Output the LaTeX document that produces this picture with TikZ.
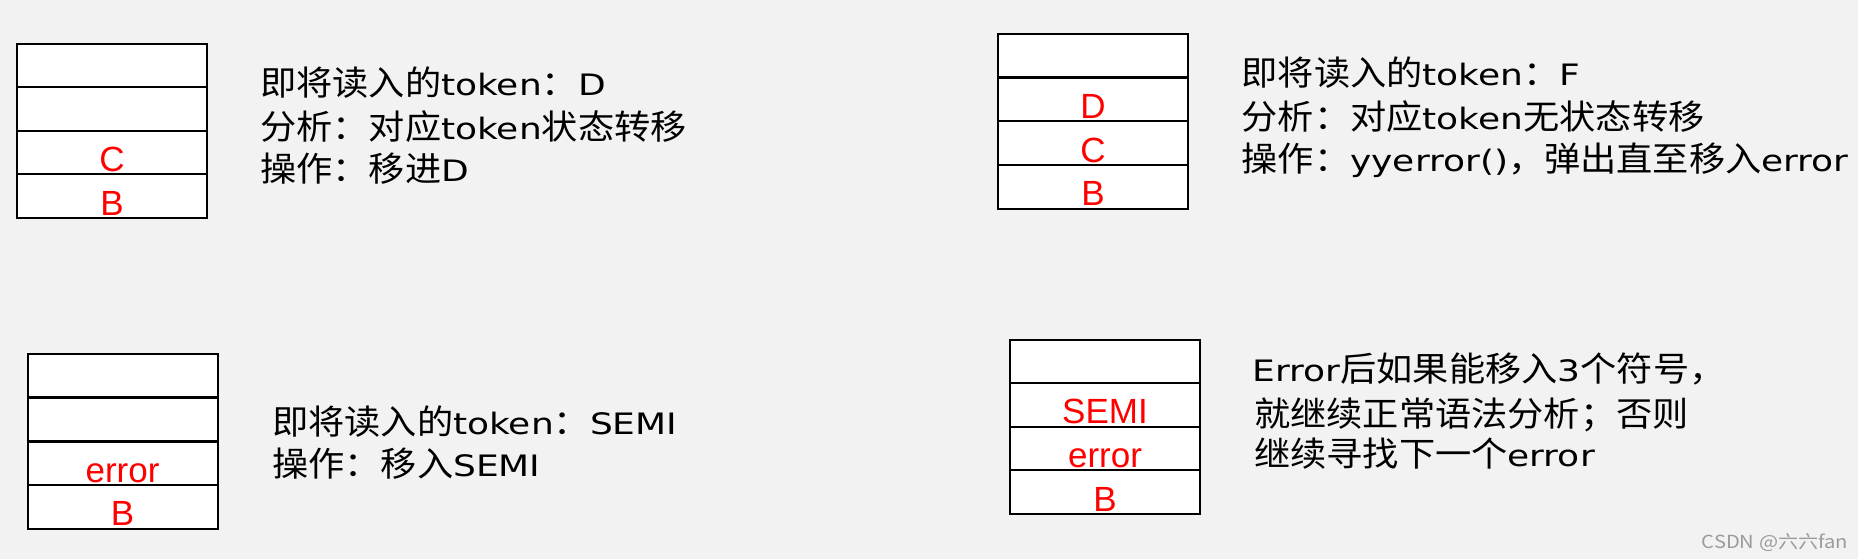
\documentclass[tikz,border=0pt]{standalone}
\usepackage{fontspec}
\setmainfont{Liberation Sans}
\newfontfamily\cjk[FakeStretch=1.065]{Noto Sans CJK SC}
\newfontfamily\latf[FakeStretch=1.22]{DejaVu Sans}
\newfontfamily\wmf[FakeStretch=1.12]{Noto Sans CJK SC}
\newcommand\mylat[1]{{\latf\fontsize{29.5pt}{36pt}\selectfont #1}}
\definecolor{bgc}{RGB}{242,242,242}
\definecolor{wm}{RGB}{155,155,155}
\begin{document}
\begin{tikzpicture}[x=1pt,y=-1pt,
  cell/.style={draw=black,line width=2pt,fill=white,minimum width=190pt,minimum height=43.5pt,inner sep=0pt,outer sep=0pt,anchor=north west},
  lab/.style={text=red,anchor=base,inner sep=0pt,font=\fontsize{35pt}{40pt}\selectfont},
  txt/.style={anchor=base west,inner sep=0pt,font=\cjk\fontsize{34pt}{42pt}\selectfont}]
\fill[bgc] (0,0) rectangle (1858,559);
\useasboundingbox (0,0) rectangle (1858,559);
% stack 1
\node[cell] (a1) at (17,43.7) {};
\node[cell] (a2) at (17,87.2) {};
\node[cell] (a3) at (17,130.7) {};
\node[cell] (a4) at (17,174.2) {};
\node[lab] (la3) at ([yshift=2.3pt]a3.south) {C};
\node[lab] (la4) at ([yshift=2.7pt]a4.south) {B};
\node[txt] (ta1) at (260,95.7) {即将读入的\mylat{token}：\mylat{D}};
\node[txt] (ta2) at (260,139.3) {分析：对应\mylat{token}状态转移};
\node[txt] (ta3) at (260,181.7) {操作：移进\mylat{D}};
% stack 2
\node[cell] (b1) at (998,33.7) {};
\node[cell] (b2) at (998,77.7) {};
\node[cell] (b3) at (998,121.5) {};
\node[cell] (b4) at (998,165.2) {};
\node[lab] (lb2) at ([yshift=2.4pt]b2.south) {D};
\node[lab] (lb3) at ([yshift=2.3pt]b3.south) {C};
\node[lab] (lb4) at ([yshift=3pt]b4.south) {B};
\node[txt] (tb1) at (1241.5,85.7) {即将读入的\mylat{token}：\mylat{F}};
\node[txt] (tb2) at (1241.5,129.3) {分析：对应\mylat{token}无状态转移};
\node[txt] (tb3) at (1241.5,171.7) {操作：\mylat{yyerror()}，弹出直至移入\mylat{error}};
% stack 3
\node[cell] (c1) at (27.5,353.7) {};
\node[cell] (c2) at (27.5,397.6) {};
\node[cell] (c3) at (27.5,441.5) {};
\node[cell] (c4) at (27.5,485.4) {};
\node[lab] (lc3) at ([yshift=2.3pt]c3.south) {error};
\node[lab] (lc4) at ([yshift=3.3pt]c4.south) {B};
\node[txt] (tc1) at (272,434) {即将读入的\mylat{token}：\mylat{SEMI}};
\node[txt] (tc2) at (272,476) {操作：移入\mylat{SEMI}};
% stack 4
\node[cell] (d1) at (1010,340) {};
\node[cell] (d2) at (1010,383.4) {};
\node[cell] (d3) at (1010,426.8) {};
\node[cell] (d4) at (1010,470.2) {};
\node[lab] (ld2) at ([yshift=3pt]d2.south) {SEMI};
\node[lab] (ld3) at ([yshift=3pt]d3.south) {error};
\node[lab] (ld4) at ([yshift=2pt]d4.south) {B};
\node[txt] (td1) at (1252.5,381.7) {\mylat{Error}后如果能移入\mylat{3}个符号，};
\node[txt] (td2) at (1254,426.7) {就继续正常语法分析；否则};
\node[txt] (td3) at (1254,466.7) {继续寻找下一个\mylat{error}};
% watermark
\node[anchor=base west,inner sep=0pt,text=wm,font=\wmf\fontsize{18pt}{20pt}\selectfont] (wmk) at (1701.5,548.3) {CSDN @六六fan};
\end{tikzpicture}
\end{document}
